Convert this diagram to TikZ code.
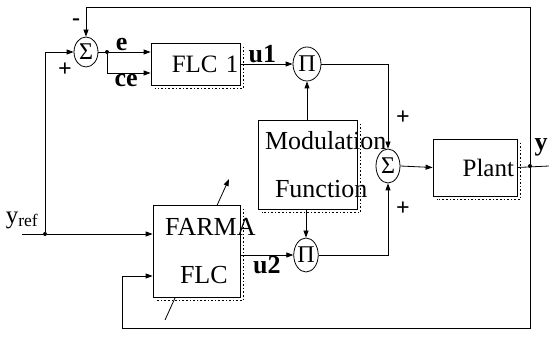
\documentclass[tikz,border=0pt]{standalone}
\usepackage{fontspec}
\setmainfont{Liberation Serif}
\usetikzlibrary{arrows.meta, positioning, calc, shapes.geometric, backgrounds}
\tikzset{
  blk/.style={rectangle, draw, fill=white, line width=0.8pt, inner sep=0pt,
              font=\fontsize{26}{48}\selectfont},
  opnode/.style={ellipse, draw, fill=white, line width=0.8pt, inner sep=0pt,
                 minimum width=24pt, minimum height=34pt,
                 font=\fontsize{24}{26}\selectfont},
  arr/.style={-{Triangle[length=7pt, width=5pt]}, line width=0.8pt},
  wire/.style={line width=0.8pt},
  lbl/.style={font=\bfseries\fontsize{26}{28}\selectfont, inner sep=1pt},
  sgn/.style={font=\bfseries\fontsize{24}{26}\selectfont, inner sep=0pt},
  jdot/.style={circle, fill, inner sep=0pt, minimum size=4pt},
  shade/.style={dotted, line width=1.6pt},
}

\begin{document}
\begin{tikzpicture}[x=1pt, y=-1pt]
  \useasboundingbox (0,0) rectangle (549,339);

  % summing and product junctions
  \node[opnode, minimum height=30pt] (sum1) at (86,52) {Σ};
  \node[opnode, minimum width=28pt] (pi1) at (307,64) {Π};
  \node[opnode] (pi2) at (306,255) {Π};
  \node[opnode] (sum2) at (388,166) {Σ};

  % blocks
  \node[blk, minimum width=89pt, minimum height=42pt, text width=86pt, align=right,
        font=\fontsize{25}{30}\selectfont] (flc1) at (195.5,64) {\mbox{FLC 1}};
  \node[blk, minimum width=99pt, minimum height=89pt, text width=85pt, align=left]
    (mod) at (307.5,164.5) {\mbox{Modulation}\\\hspace*{10pt}\mbox{Function}};
  \node[blk, minimum width=87pt, minimum height=92pt, text width=63pt, align=left]
    (farma) at (196.5,251) {\mbox{FARMA}\\\hspace*{15pt}\mbox{FLC}};
  \node[blk, minimum width=84pt, minimum height=57pt, text width=78pt, align=right,
        font=\fontsize{25}{30}\selectfont] (plant) at (475,167.5) {\mbox{Plant}};

  % dotted shadows
  \foreach \b in {flc1, mod, farma, plant}
    \draw[shade] ([shift={(3pt,-4pt)}]\b.north east) -- ([shift={(3pt,-3pt)}]\b.south east)
                 -- ([shift={(4pt,-3pt)}]\b.south west);

  % junction dots and free ends
  \node[jdot] (rdot) at (45,234) {};
  \node[jdot] (edot) at (107,52) {};
  \node[jdot] (ydot) at (530,166) {};
  \coordinate (yin) at (22,234);
  \coordinate (yout) at (549,166);
  \coordinate (tr) at (530,7);
  \coordinate (br) at (530,328);
  \coordinate (bl) at (122,328);
  \coordinate (adpS) at (165,320);
  \coordinate (adpE) at (229,179);

  % signal labels
  \node[font=\fontsize{25}{27}\selectfont, inner sep=0pt] (yref) at (22,220) {y\textsubscript{ref}};
  \node[sgn] (m1) at (76,22) {-};
  \node[sgn] (p1) at (65,70) {+};
  \node[sgn] (p2) at (403,118) {+};
  \node[sgn] (p3) at (403,209) {+};
  \node[lbl] (ylbl) at (541,147) {y};

  % connectors
  \draw[wire] (yin) -- (rdot);
  \draw[arr] (rdot) -- (rdot -| farma.west);
  \draw[arr] (rdot) |- (sum1.west);
  \draw[wire] (sum1.east) -- (edot);
  \draw[arr] (edot) -- node[lbl, above, pos=0.3] (elbl) {e} (edot -| flc1.west);
  \draw[arr] (edot) |- node[lbl, below, pos=0.72] (celbl) {ce} ([yshift=-9pt]flc1.west);
  \draw[arr] (flc1.east) -- node[lbl, above, pos=0.42] (u1lbl) {u1} (pi1.west);
  \draw[arr] (pi2.west -| farma.east) -- node[lbl, below, pos=0.5] (u2lbl) {u2} (pi2.west);
  \draw[arr] (mod.north -| pi1.south) -- (pi1.south);
  \draw[arr] (mod.south -| pi2.north) -- (pi2.north);
  \draw[arr] (pi1.east) -| (sum2.north);
  \draw[arr] (pi2.east) -| (sum2.south);
  \draw[arr] (sum2.east) -- (plant.west);
  \draw[wire] (plant.east) -- (yout);
  \draw[arr] (ydot) -- (tr) -| (sum1.north);
  \draw[arr] (ydot) -- (br) -- (bl) |- ([yshift=-25pt]farma.west);

  \begin{scope}[on background layer]
    \draw[arr] (adpS) -- (adpE);
  \end{scope}
\end{tikzpicture}
\end{document}
